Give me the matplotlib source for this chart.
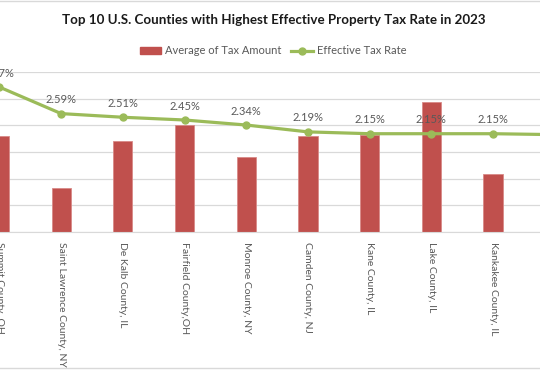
import matplotlib
matplotlib.use("Agg")
import matplotlib.pyplot as plt
from matplotlib.lines import Line2D
from matplotlib.patches import Patch

counties = [
    "Summit County, OH",
    "Saint Lawrence County, NY",
    "De Kalb County, IL",
    "Fairfield County,OH",
    "Monroe County, NY",
    "Camden County, NJ",
    "Kane County, IL",
    "Lake County, IL",
    "Kankakee County, IL",
    "Winnebago County, IL",
]
avg_tax = [7220, 3280, 6820, 8020, 5600, 7200, 7300, 9760, 4320, 5200]
tax_rate = [3.17, 2.59, 2.51, 2.45, 2.34, 2.19, 2.15, 2.15, 2.15, 2.13]

BAR = "#C0504D"
LINE = "#9BBB59"
GRID = "#D9D9D9"
TEXT = "#595959"

plt.rcParams["font.family"] = ["Lato", "DejaVu Sans"]

fig = plt.figure(figsize=(5.4, 3.7), dpi=100)
W, H = 540, 370

# plot area runs past the left and right edge of the picture
left_px, right_px = -31.4, 585.6
top_px, bottom_px = 72, 232
ax = fig.add_axes([left_px / W, 1 - bottom_px / H,
                   (right_px - left_px) / W, (bottom_px - top_px) / H])
ax2 = ax.twinx()

x = list(range(len(counties)))
ax.bar(x, avg_tax, width=0.31, color=BAR, edgecolor="#D98A88", linewidth=0.6,
       zorder=2)
ax.set_ylim(0, 12000)
ax.set_yticks(range(0, 12001, 2000))
ax.set_xlim(-0.5, len(counties) - 0.5)
ax.grid(axis="y", color=GRID, linewidth=0.9, zorder=0)
ax.set_axisbelow(True)
ax.tick_params(axis="y", length=0, labelleft=False)
ax.tick_params(axis="x", length=0, pad=7)
ax.set_xticks(x)
ax.set_xticklabels(counties, rotation=-90, fontsize=7.5, color=TEXT,
                   va="top", ha="center")
for s in ["top", "left", "right"]:
    ax.spines[s].set_visible(False)
ax.spines["bottom"].set_color(GRID)

ax2.plot(x, tax_rate, color=LINE, linewidth=2.3, marker="o", markersize=5,
         zorder=3)
ax2.set_ylim(0, 3.5)
ax2.tick_params(axis="y", length=0, labelright=False)
for s in ["top", "left", "right", "bottom"]:
    ax2.spines[s].set_visible(False)
for xi, r in zip(x, tax_rate):
    ax2.annotate(f"{r:.2f}%", (xi, r), xytext=(0, 10),
                 textcoords="offset points", ha="center", va="center",
                 fontsize=8, color=TEXT)

fig.text(274 / W, 1 - 20 / H,
         "Top 10 U.S. Counties with Highest Effective Property Tax Rate in 2023",
         ha="center", va="center", fontsize=9.6, fontweight="bold",
         color="#1a1a1a")

handles = [Patch(color=BAR),
           Line2D([0], [0], color=LINE, linewidth=2.3, marker="o",
                  markersize=5)]
fig.legend(handles, ["Average of Tax Amount", "Effective Tax Rate"],
           loc="center", bbox_to_anchor=(273 / W, 1 - 51 / H), ncol=2,
           frameon=False, fontsize=8, labelcolor=TEXT, handlelength=1.9,
           handleheight=0.6, columnspacing=0.9, handletextpad=0.4)

# chart area border, only top and bottom show inside the crop
for yy in (1, 368):
    fig.add_artist(Line2D([0, 1], [1 - yy / H, 1 - yy / H], color=GRID,
                          linewidth=1, transform=fig.transFigure))

fig.savefig("out.png", dpi=100)
